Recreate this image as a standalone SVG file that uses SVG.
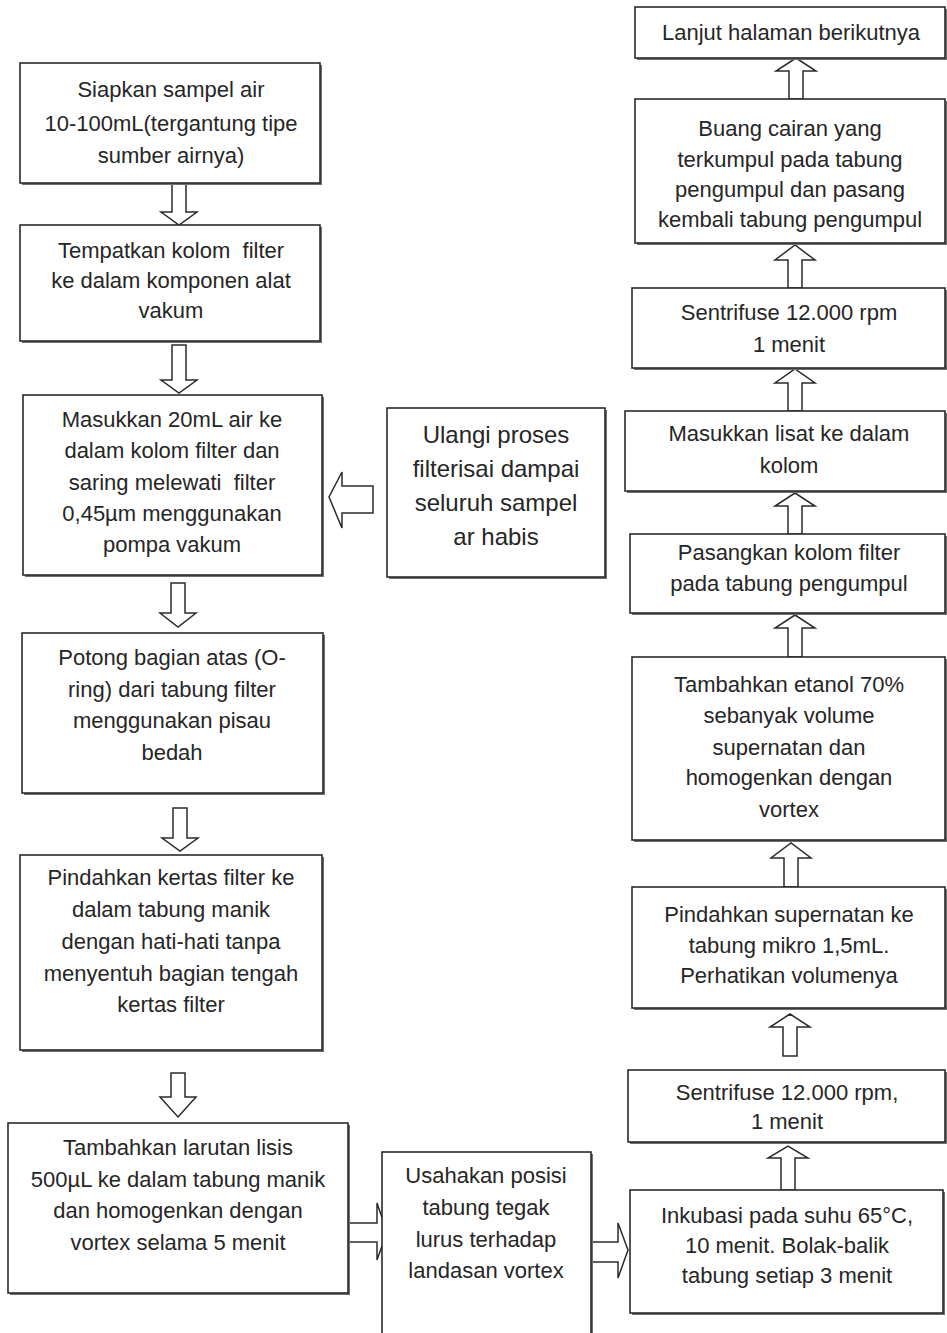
<svg xmlns="http://www.w3.org/2000/svg" width="947" height="1333" viewBox="0 0 947 1333">
  <style>
    .shadow { fill: #6f6f6f; }
    .box { fill: #ffffff; stroke: #2b2b2b; stroke-width: 1.6; }
    .arrow { fill: #ffffff; stroke: #2b2b2b; stroke-width: 1.5; stroke-linejoin: miter; }
    text { font-family: "Liberation Sans", Arial, sans-serif; font-size: 22px; fill: #262626; text-anchor: middle; white-space: pre; }
    .big { font-size: 24px; }
  </style>
  <rect width="947" height="1333" fill="#ffffff"/>

  <!-- Connectors: hollow block arrows -->
  <g id="connectors">
    <!-- left column, downward -->
    <path class="arrow" d="M172,183 V212 H161 L179,225 L197,212 H186 V183 Z"/>
    <path class="arrow" d="M172,345 V380 H161 L179,393 L197,380 H186 V345 Z"/>
    <path class="arrow" d="M171,583 V613 H160 L178,627 L196,613 H185 V583 Z"/>
    <path class="arrow" d="M173,808 V838 H162 L180,851 L198,838 H187 V808 Z"/>
    <path class="arrow" d="M171,1073 V1097 H160 L178,1117 L196,1097 H185 V1073 Z"/>
    <!-- repeat loop back into the filtering step -->
    <path class="arrow" d="M373,486 H342 V472 L329,497 L342,528 V513 H373 Z"/>
    <!-- bottom row, to the right -->
    <path class="arrow" d="M348,1223 H377 V1203 L387,1232 L377,1260 V1242 H348 Z"/>
    <path class="arrow" d="M591,1242 H618 V1223 L628,1250 L618,1278 V1262 H591 Z"/>
    <!-- right column, upward -->
    <path class="arrow" d="M781,1190 V1158 H768 L788,1146 L808,1158 H795 V1190 Z"/>
    <path class="arrow" d="M783,1056 V1027 H770 L790,1014 L810,1027 H797 V1056 Z"/>
    <path class="arrow" d="M784,887 V858 H771 L791,843 L811,858 H798 V887 Z"/>
    <path class="arrow" d="M788,657 V628 H775 L795,615 L815,628 H802 V657 Z"/>
    <path class="arrow" d="M788,534 V506 H775 L795,493 L815,506 H802 V534 Z"/>
    <path class="arrow" d="M788,411 V383 H775 L795,369 L815,383 H802 V411 Z"/>
    <path class="arrow" d="M788,288 V260 H775 L795,245 L815,260 H802 V288 Z"/>
    <path class="arrow" d="M789,99 V71 H776 L796,58 L816,71 H803 V99 Z"/>
  </g>

  <!-- Left column -->
  <g id="siapkan">
    <rect class="shadow" x="22" y="65" width="300" height="120"/>
    <rect class="box" x="20" y="63" width="300" height="120"/>
    <text x="171" y="97">Siapkan sampel air</text>
    <text x="171" y="131">10-100mL(tergantung tipe</text>
    <text x="171" y="163">sumber airnya)</text>
  </g>
  <g id="tempatkan">
    <rect class="shadow" x="22" y="227" width="300" height="116"/>
    <rect class="box" x="20" y="225" width="300" height="116"/>
    <text x="171" y="258" xml:space="preserve">Tempatkan kolom  filter</text>
    <text x="171" y="288">ke dalam komponen alat</text>
    <text x="171" y="318">vakum</text>
  </g>
  <g id="masukkan-air">
    <rect class="shadow" x="25" y="397" width="299" height="180"/>
    <rect class="box" x="23" y="395" width="299" height="180"/>
    <text x="172" y="427">Masukkan 20mL air ke</text>
    <text x="172" y="458">dalam kolom filter dan</text>
    <text x="172" y="490" xml:space="preserve">saring melewati  filter</text>
    <text x="172" y="521">0,45µm menggunakan</text>
    <text x="172" y="552">pompa vakum</text>
  </g>
  <g id="potong">
    <rect class="shadow" x="24" y="635" width="301" height="160"/>
    <rect class="box" x="22" y="633" width="301" height="160"/>
    <text x="172" y="665">Potong bagian atas (O-</text>
    <text x="172" y="697">ring) dari tabung filter</text>
    <text x="172" y="728">menggunakan pisau</text>
    <text x="172" y="760">bedah</text>
  </g>
  <g id="pindahkan-kertas">
    <rect class="shadow" x="22" y="857" width="302" height="195"/>
    <rect class="box" x="20" y="855" width="302" height="195"/>
    <text x="171" y="885">Pindahkan kertas filter ke</text>
    <text x="171" y="917">dalam tabung manik</text>
    <text x="171" y="949">dengan hati-hati tanpa</text>
    <text x="171" y="981">menyentuh bagian tengah</text>
    <text x="171" y="1012">kertas filter</text>
  </g>
  <g id="tambahkan-lisis">
    <rect class="shadow" x="10" y="1125" width="340" height="170"/>
    <rect class="box" x="8" y="1123" width="340" height="170"/>
    <text x="178" y="1155">Tambahkan larutan lisis</text>
    <text x="178" y="1187">500µL ke dalam tabung manik</text>
    <text x="178" y="1218">dan homogenkan dengan</text>
    <text x="178" y="1250">vortex selama 5 menit</text>
  </g>

  <!-- Middle -->
  <g id="ulangi">
    <rect class="shadow" x="389" y="410" width="218" height="169"/>
    <rect class="box" x="387" y="408" width="218" height="169"/>
    <text class="big" x="496" y="443">Ulangi proses</text>
    <text class="big" x="496" y="477">filterisai dampai</text>
    <text class="big" x="496" y="511">seluruh sampel</text>
    <text class="big" x="496" y="545">ar habis</text>
  </g>
  <g id="usahakan">
    <rect class="shadow" x="384" y="1154" width="209" height="200"/>
    <rect class="box" x="382" y="1152" width="209" height="200"/>
    <text x="486" y="1183">Usahakan posisi</text>
    <text x="486" y="1215">tabung tegak</text>
    <text x="486" y="1247">lurus terhadap</text>
    <text x="486" y="1278">landasan vortex</text>
  </g>

  <!-- Right column -->
  <g id="inkubasi">
    <rect class="shadow" x="632" y="1192" width="313" height="123"/>
    <rect class="box" x="630" y="1190" width="313" height="123"/>
    <text x="787" y="1223">Inkubasi pada suhu 65°C,</text>
    <text x="787" y="1253">10 menit. Bolak-balik</text>
    <text x="787" y="1283">tabung setiap 3 menit</text>
  </g>
  <g id="sentrifuse-2">
    <rect class="shadow" x="630" y="1072" width="317" height="72"/>
    <rect class="box" x="628" y="1070" width="317" height="72"/>
    <text x="787" y="1100">Sentrifuse 12.000 rpm,</text>
    <text x="787" y="1129">1 menit</text>
  </g>
  <g id="pindahkan-supernatan">
    <rect class="shadow" x="634" y="889" width="313" height="121"/>
    <rect class="box" x="632" y="887" width="313" height="121"/>
    <text x="789" y="922">Pindahkan supernatan ke</text>
    <text x="789" y="953">tabung mikro 1,5mL.</text>
    <text x="789" y="983">Perhatikan volumenya</text>
  </g>
  <g id="etanol">
    <rect class="shadow" x="634" y="659" width="313" height="183"/>
    <rect class="box" x="632" y="657" width="313" height="183"/>
    <text x="789" y="692">Tambahkan etanol 70%</text>
    <text x="789" y="723">sebanyak volume</text>
    <text x="789" y="755">supernatan dan</text>
    <text x="789" y="785">homogenkan dengan</text>
    <text x="789" y="817">vortex</text>
  </g>
  <g id="pasangkan">
    <rect class="shadow" x="632" y="536" width="315" height="79"/>
    <rect class="box" x="630" y="534" width="315" height="79"/>
    <text x="789" y="560">Pasangkan kolom filter</text>
    <text x="789" y="591">pada tabung pengumpul</text>
  </g>
  <g id="masukkan-lisat">
    <rect class="shadow" x="627" y="413" width="320" height="80"/>
    <rect class="box" x="625" y="411" width="320" height="80"/>
    <text x="789" y="441">Masukkan lisat ke dalam</text>
    <text x="789" y="473">kolom</text>
  </g>
  <g id="sentrifuse-1">
    <rect class="shadow" x="634" y="290" width="313" height="80"/>
    <rect class="box" x="632" y="288" width="313" height="80"/>
    <text x="789" y="320">Sentrifuse 12.000 rpm</text>
    <text x="789" y="352">1 menit</text>
  </g>
  <g id="buang">
    <rect class="shadow" x="637" y="101" width="310" height="144"/>
    <rect class="box" x="635" y="99" width="310" height="144"/>
    <text x="790" y="136">Buang cairan yang</text>
    <text x="790" y="167">terkumpul pada tabung</text>
    <text x="790" y="197">pengumpul dan pasang</text>
    <text x="790" y="227">kembali tabung pengumpul</text>
  </g>
  <g id="lanjut">
    <rect class="shadow" x="637" y="9" width="310" height="51"/>
    <rect class="box" x="635" y="7" width="310" height="51"/>
    <text x="791" y="40">Lanjut halaman berikutnya</text>
  </g>
</svg>
